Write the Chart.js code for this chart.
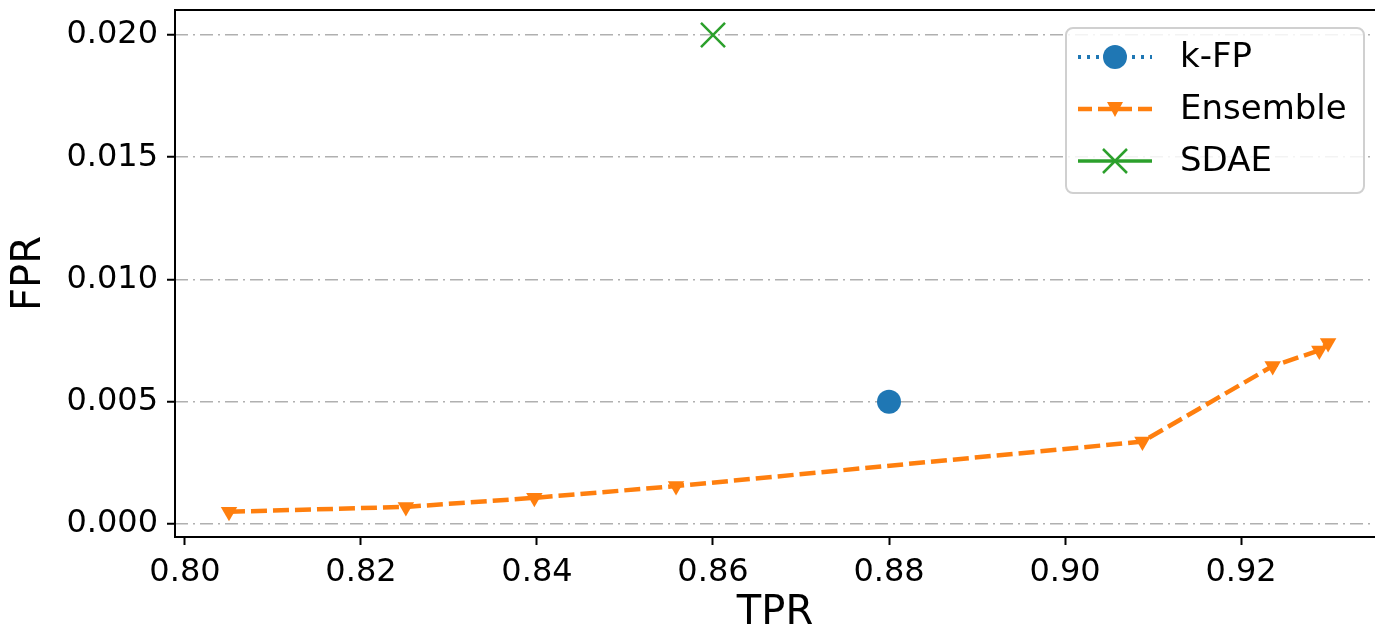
<!DOCTYPE html>
<html>
<head>
<meta charset="utf-8">
<script src="https://cdn.jsdelivr.net/npm/chart.js@4"></script>
<style>
  html, body { margin: 0; padding: 0; background: #fff; overflow: hidden; }
  #wrap { width: 1375px; height: 630px; }
</style>
</head>
<body>
<div id="wrap"><canvas id="myChart"></canvas></div>
<script>
const kfpTPR = [0.88];
const kfpFPR = [0.005];
const ensembleTPR = [0.805, 0.8251, 0.8397, 0.8558, 0.9088, 0.9236, 0.9289, 0.9299];
const ensembleFPR = [0.0005, 0.0007, 0.00107, 0.00155, 0.00337, 0.00646, 0.0071, 0.0074];
const sdaeTPR = [0.86];
const sdaeFPR = [0.02];

const seriesNames = ['k-FP', 'Ensemble', 'SDAE'];
const colors = ['#1f77b4', '#ff7f0e', '#2ca02c'];

const FONT = 'DejaVu Sans';

function toPoints(xs, ys) {
  return xs.map((x, i) => ({ x: x, y: ys[i] }));
}

// no automatic label padding, the frame is fixed
function noPad(scale) {
  scale.paddingTop = 0;
  scale.paddingBottom = 0;
  scale.paddingLeft = 0;
  scale.paddingRight = 0;
}

// frame + matplotlib-style legend
const framePlugin = {
  id: 'frame',
  afterDraw(chart) {
    const { ctx, chartArea: a } = chart;
    ctx.save();
    ctx.strokeStyle = '#000';
    ctx.lineWidth = 2;
    ctx.strokeRect(a.left, a.top, a.right - a.left + 5, a.bottom - a.top);

    // legend box
    const bx = a.right - 309, by = 28, bw = 298, bh = 165;
    ctx.beginPath();
    ctx.roundRect(bx, by, bw, bh, 7);
    ctx.fillStyle = 'rgba(255,255,255,0.85)';
    ctx.fill();
    ctx.strokeStyle = '#d0d0d0';
    ctx.lineWidth = 2;
    ctx.stroke();

    const rows = [57, 109, 161];
    const x0 = bx + 12, x1 = bx + 86, xm = (x0 + x1) / 2;
    rows.forEach((ry, i) => {
      ctx.strokeStyle = colors[i];
      ctx.fillStyle = colors[i];
      ctx.beginPath();
      if (i === 0) { ctx.setLineDash([3, 6]); ctx.lineWidth = 4; }
      else if (i === 1) { ctx.setLineDash([14, 6]); ctx.lineWidth = 4.5; }
      else { ctx.setLineDash([]); ctx.lineWidth = 3.5; }
      ctx.moveTo(x0, ry);
      ctx.lineTo(x1, ry);
      ctx.stroke();
      ctx.setLineDash([]);
      if (i === 0) {
        ctx.beginPath();
        ctx.arc(xm, ry, 12, 0, Math.PI * 2);
        ctx.fill();
      } else if (i === 1) {
        ctx.beginPath();
        ctx.moveTo(xm - 8, ry - 7);
        ctx.lineTo(xm + 8, ry - 7);
        ctx.lineTo(xm, ry + 8);
        ctx.closePath();
        ctx.fill();
      } else {
        ctx.lineWidth = 2.5;
        ctx.beginPath();
        ctx.moveTo(xm - 12, ry - 12); ctx.lineTo(xm + 12, ry + 12);
        ctx.moveTo(xm - 12, ry + 12); ctx.lineTo(xm + 12, ry - 12);
        ctx.stroke();
      }
      ctx.fillStyle = '#000';
      ctx.font = '34px "' + FONT + '"';
      ctx.textAlign = 'left';
      ctx.textBaseline = 'middle';
      ctx.fillText(seriesNames[i], bx + 114, ry + 1);
    });
    ctx.restore();
  }
};

new Chart(document.getElementById('myChart'), {
  type: 'scatter',
  data: {
    datasets: [
      {
        label: seriesNames[0],
        data: toPoints(kfpTPR, kfpFPR),
        showLine: false,
        pointStyle: 'circle',
        pointRadius: 12,
        backgroundColor: colors[0],
        borderColor: colors[0],
        borderWidth: 0
      },
      {
        label: seriesNames[1],
        data: toPoints(ensembleTPR, ensembleFPR),
        showLine: true,
        borderColor: colors[1],
        borderWidth: 4.5,
        borderDash: [16, 6],
        pointStyle: 'triangle',
        pointRotation: 180,
        pointRadius: 9.5,
        pointBorderWidth: 0,
        pointBackgroundColor: colors[1],
        tension: 0
      },
      {
        label: seriesNames[2],
        data: toPoints(sdaeTPR, sdaeFPR),
        showLine: false,
        pointStyle: 'crossRot',
        pointRadius: 17,
        pointBorderWidth: 2.5,
        borderColor: colors[2],
        backgroundColor: colors[2]
      }
    ]
  },
  options: {
    responsive: true,
    maintainAspectRatio: false,
    animation: false,
    layout: { autoPadding: false, padding: { top: 10, right: 0, left: 0, bottom: 0 } },
    plugins: {
      legend: { display: false },
      tooltip: { enabled: false }
    },
    scales: {
      x: {
        type: 'linear',
        min: 0.798864,
        max: 0.935227,
        afterFit(scale) { scale.height = 93; noPad(scale); },
        ticks: {
          stepSize: 0.02,
          includeBounds: false,
          color: '#000',
          padding: 8,
          font: { family: FONT, size: 32 },
          callback: v => v.toFixed(2)
        },
        grid: {
          drawOnChartArea: false,
          drawTicks: true,
          tickLength: 8,
          tickWidth: 2,
          tickColor: '#000'
        },
        border: { display: false },
        title: {
          display: true,
          text: 'TPR',
          color: '#000',
          font: { family: FONT, size: 40, lineHeight: 0.8 },
          padding: { top: 0, bottom: 0 }
        }
      },
      y: {
        type: 'linear',
        min: -0.000532,
        max: 0.021022,
        afterFit(scale) { scale.width = 175; noPad(scale); },
        ticks: {
          stepSize: 0.005,
          includeBounds: false,
          color: '#000',
          padding: 9,
          font: { family: FONT, size: 32 },
          callback: v => v.toFixed(3)
        },
        grid: {
          color: '#b0b0b0',
          lineWidth: 1.5,
          drawTicks: true,
          tickLength: 8,
          tickWidth: 2,
          tickColor: '#000',
          tickBorderDash: []
        },
        border: { display: false, dash: [13, 5, 2, 5] },
        title: {
          display: true,
          text: 'FPR',
          color: '#000',
          font: { family: FONT, size: 40, lineHeight: 1.0 },
          padding: { top: 10, bottom: 0 }
        }
      }
    }
  },
  plugins: [framePlugin]
});
</script>
</body>
</html>
